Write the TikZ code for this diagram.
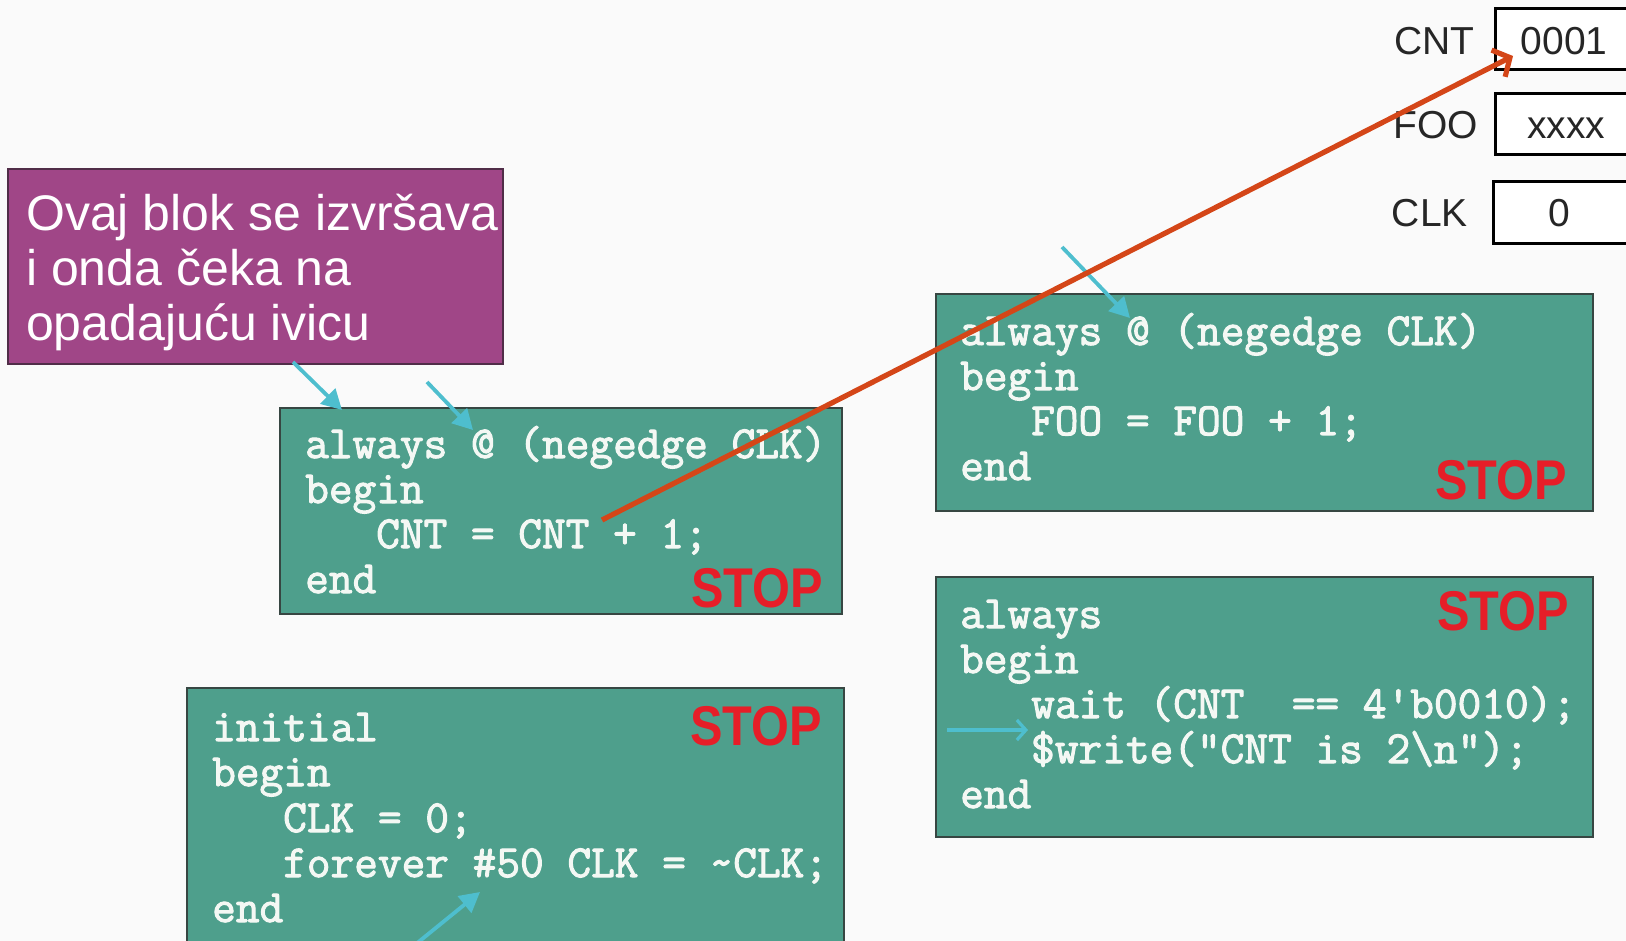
\documentclass[tikz,border=0pt]{standalone}
\usepackage{fontspec}
\setmainfont{Liberation Sans}
\newfontfamily\stopfont{Liberation Sans}[FakeStretch=0.87]
\newfontfamily\codefont{Latin Modern Mono}[FakeBold=2.2]
\usetikzlibrary{arrows.meta}

\definecolor{bgcol}{RGB}{250,250,250}
\definecolor{tealfill}{RGB}{78,159,140}
\definecolor{tealedge}{RGB}{55,70,66}
\definecolor{plumfill}{RGB}{160,70,135}
\definecolor{plumedge}{RGB}{80,45,72}
\definecolor{stopred}{RGB}{230,30,40}
\definecolor{flowred}{RGB}{212,70,24}
\definecolor{pointer}{RGB}{78,190,206}
\definecolor{codewhite}{RGB}{244,248,244}

\tikzset{
  codebox/.style={draw=tealedge, line width=1.6pt, fill=tealfill, anchor=north west,
    inner sep=0pt, outer sep=0pt},
  notebox/.style={draw=plumedge, line width=1.6pt, fill=plumfill, anchor=north west,
    inner sep=0pt, outer sep=0pt},
  regbox/.style={draw=black, line width=3pt, fill=white, anchor=north west,
    inner sep=0pt, outer sep=0pt},
  codeline/.style={anchor=base west, inner sep=0pt, text=codewhite,
    font=\codefont\fontsize{46}{46}\selectfont},
  stoplabel/.style={anchor=base east, inner sep=0pt, text=stopred,
    font=\stopfont\bfseries\fontsize{56}{56}\selectfont},
  noteline/.style={anchor=base west, inner sep=0pt, text=white,
    font=\fontsize{50}{50}\selectfont},
  regname/.style={anchor=base east, inner sep=0pt, text=black!85,
    font=\fontsize{39}{39}\selectfont},
  regvalue/.style={anchor=base, inner sep=0pt, text=black!85,
    font=\fontsize{39}{39}\selectfont},
  pointerarrow/.style={draw=pointer, line width=3.8pt,
    -{Triangle[length=20pt,width=21pt]}},
  pointerbarb/.style={draw=pointer, line width=3.2pt,
    -{Straight Barb[length=9pt,width=20pt,line width=3.2pt]}},
  flowarrow/.style={draw=flowred, line width=5.2pt,
    -{Straight Barb[length=13pt,width=30pt,line width=5.2pt]}},
}

\begin{document}
\begin{tikzpicture}[x=1pt,y=-1pt]
  % page and background
  \useasboundingbox (0,0) rectangle (1626,941);
  \fill[bgcol] (0,0) rectangle (1626,941);

  % register boxes on the right
  \node[regbox, minimum width=150pt, minimum height=61pt] (regcnt) at (1495,9) {};
  \node[regbox, minimum width=150pt, minimum height=61pt] (regfoo) at (1495,94) {};
  \node[regbox, minimum width=152pt, minimum height=62pt] (regclk) at (1493,182) {};
  \node[regname] (lblcnt) at (1475,55) {CNT};
  \node[regname] (lblfoo) at (1478,139) {FOO};
  \node[regname] (lblclk) at (1468,227) {CLK};
  \node[regvalue] (valcnt) at (1564,55) {0001};
  \node[regvalue] (valfoo) at (1566,139) {xxxx};
  \node[regvalue] (valclk) at (1559,227) {0};

  % explanatory note
  \node[notebox, minimum width=495pt, minimum height=195pt] (note) at (8,169) {};
  \node[noteline] (note1) at (26,231) {Ovaj blok se izvršava};
  \node[noteline] (note2) at (26,286) {i onda čeka na};
  \node[noteline] (note3) at (26,341) {opadajuću ivicu};

  % always block on CNT
  \node[codebox, minimum width=562pt, minimum height=206pt] (cntblk) at (280,408) {};
  \node[codeline] (cnt1) at (305,458) {always @ (negedge CLK)};
  \node[codeline] (cnt2) at (305,503) {begin};
  \node[codeline] (cnt3) at (376,548) {CNT = CNT + 1;};
  \node[codeline] (cnt4) at (305,593) {end};
  \node[stoplabel] (cntstop) at (823,607) {STOP};

  % initial block
  \node[codebox, minimum width=657pt, minimum height=280pt] (iniblk) at (187,688) {};
  \node[codeline] (ini1) at (212,741) {initial};
  \node[codeline] (ini2) at (212,786) {begin};
  \node[codeline] (ini3) at (283,832) {CLK = 0;};
  \node[codeline] (ini4) at (283,877) {forever \#50 CLK = \textasciitilde CLK;};
  \node[codeline] (ini5) at (212,922) {end};
  \node[stoplabel] (inistop) at (822,745) {STOP};

  % always block on FOO
  \node[codebox, minimum width=657pt, minimum height=217pt] (fooblk) at (936,294) {};
  \node[codeline] (foo1) at (960,345) {always @ (negedge CLK)};
  \node[codeline] (foo2) at (960,390) {begin};
  \node[codeline] (foo3) at (1031,435) {FOO = FOO + 1;};
  \node[codeline] (foo4) at (960,480) {end};
  \node[stoplabel] (foostop) at (1567,499) {STOP};

  % always block with wait
  \node[codebox, minimum width=657pt, minimum height=260pt] (waitblk) at (936,577) {};
  \node[codeline] (wt1) at (960,628) {always};
  \node[codeline] (wt2) at (960,673) {begin};
  \node[codeline] (wt3) at (1031,718) {wait (CNT\ \ == 4\textquotesingle b0010);};
  \node[codeline] (wt4) at (1031,763) {\$write(\textquotedbl CNT is 2\textbackslash n\textquotedbl);};
  \node[codeline] (wt5) at (960,808) {end};
  \node[stoplabel] (waitstop) at (1569,630) {STOP};

  % execution pointers
  \coordinate (p1a) at (293,362);  \coordinate (p1b) at (342,410);
  \coordinate (p2a) at (427,382);  \coordinate (p2b) at (473,430);
  \coordinate (p3a) at (1062,247); \coordinate (p3b) at (1130,318);
  \coordinate (p4a) at (416,944);  \coordinate (p4b) at (480,892);
  \coordinate (p5a) at (947,730);  \coordinate (p5b) at (1028,730);
  \draw[pointerarrow] (p1a) -- (p1b);
  \draw[pointerarrow] (p2a) -- (p2b);
  \draw[pointerarrow] (p3a) -- (p3b);
  \draw[pointerarrow] (p4a) -- (p4b);
  \draw[pointerbarb] (p5a) -- (p5b);

  % CNT update written to the register
  \coordinate (upd) at (602,520);
  \coordinate (cntin) at (1513,56);
  \draw[flowarrow] (upd) -- (cntin);
\end{tikzpicture}
\end{document}
